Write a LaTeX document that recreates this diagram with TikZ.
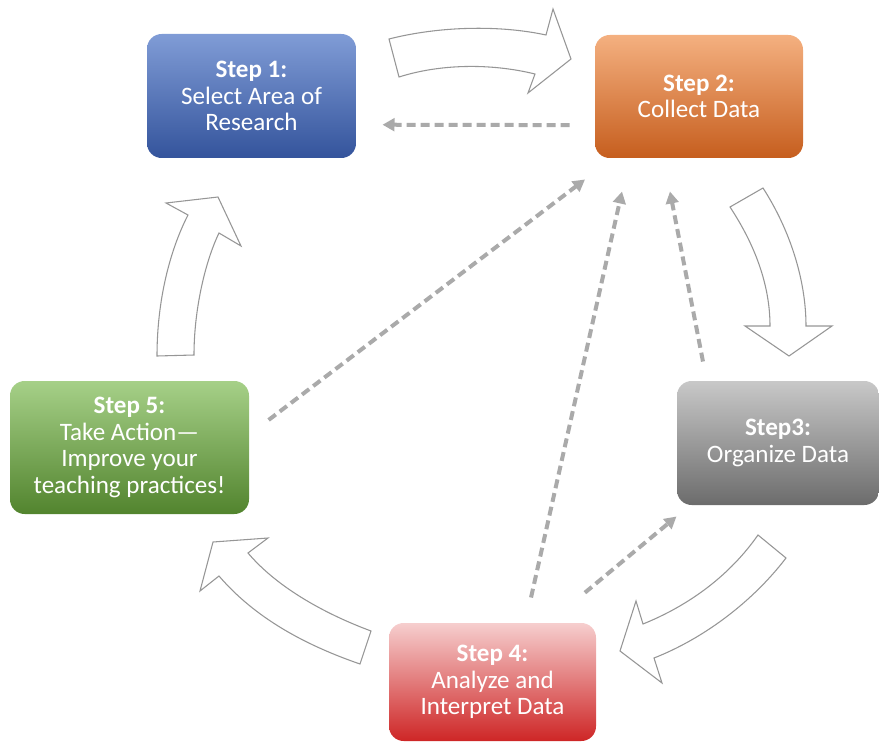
\documentclass[tikz,border=0pt]{standalone}
\usepackage{fontspec}
\setmainfont{Carlito}
\usetikzlibrary{arrows.meta}

\definecolor{blueTop}{RGB}{128,156,214}
\definecolor{blueBot}{RGB}{52,84,156}
\definecolor{orangeTop}{RGB}{244,176,128}
\definecolor{orangeBot}{RGB}{198,94,30}
\definecolor{grayTop}{RGB}{200,200,200}
\definecolor{grayBot}{RGB}{108,108,108}
\definecolor{redTop}{RGB}{246,206,206}
\definecolor{redBot}{RGB}{206,38,38}
\definecolor{greenTop}{RGB}{166,208,136}
\definecolor{greenBot}{RGB}{82,132,46}
\definecolor{arrowgray}{RGB}{150,150,150}
\definecolor{dashgray}{RGB}{170,170,170}

\tikzset{every picture/.style={line width=0.75pt}}
\tikzset{
  stepbox/.style={rounded corners=11pt, shade, text=white, align=center, inner sep=0pt,
    font=\fontsize{18.8}{20}\selectfont},
  blockarrow/.style={draw=arrowgray, fill=white, line width=0.8pt, line join=miter},
  backlink/.style={draw=dashgray, line width=3pt, dash pattern=on 6.75pt off 3.75pt,
    -{Triangle[length=9pt,width=9.5pt]}},
}

\begin{document}
\begin{tikzpicture}[x=0.75pt,y=0.75pt,yscale=-1,xscale=1]
\useasboundingbox (0,0) rectangle (879,742);

% Step boxes
\node[stepbox, minimum width=156.75pt, minimum height=93pt, top color=blueTop, bottom color=blueBot] (s1) at (251.5,96) {\textbf{Step 1:}\\Select Area of\\Research};
\node[stepbox, minimum width=156pt, minimum height=92.25pt, top color=orangeTop, bottom color=orangeBot] (s2) at (699,96.5) {\textbf{Step 2:}\\Collect Data};
\node[stepbox, minimum width=151.5pt, minimum height=93pt, top color=grayTop, bottom color=grayBot] (s3) at (778,443) {\textbf{Step3:}\\Organize Data};
\node[stepbox, minimum width=155.25pt, minimum height=88.5pt, top color=redTop, bottom color=redBot] (s4) at (492.5,682) {\textbf{Step 4:}\\Analyze and\\Interpret Data};
\node[stepbox, minimum width=179.25pt, minimum height=99.75pt, top color=greenTop, bottom color=greenBot] (s5) at (129.5,447.5) {\textbf{Step 5:}\\Take Action—\\Improve your\\teaching practices!};

%Shape: Curved Arrow 1 to 2
\draw[blockarrow] (389,39) .. controls (440,26) and (500,25) .. (546,35) -- (553,9) -- (571,59) -- (528,93) -- (535,74) .. controls (490,63) and (440,64) .. (399,77) -- cycle ;
%Shape: Curved Arrow 2 to 3
\draw[blockarrow] (730,207) .. controls (755,245) and (770,285) .. (770,326) -- (745,326) -- (789,356) -- (832,326) -- (806,326) .. controls (806,280) and (790,230) .. (763,188) -- cycle ;
%Shape: Curved Arrow 3 to 4
\draw[blockarrow] (786,558) .. controls (750,605) and (700,640) .. (654,658) -- (662,683) -- (620,651) -- (636,601) -- (643,624) .. controls (690,605) and (730,575) .. (758,535) -- cycle ;
%Shape: Curved Arrow 4 to 5
\draw[blockarrow] (371,631) .. controls (320,612) and (275,585) .. (248,553) -- (268,538) -- (213,542) -- (200,591) -- (219,576) .. controls (255,618) and (305,645) .. (360,664) -- cycle ;
%Shape: Curved Arrow 5 to 1
\draw[blockarrow] (157,356) .. controls (157,300) and (170,250) .. (188,215) -- (166,203) -- (218,197) -- (241,246) -- (219,233) .. controls (205,262) and (194,310) .. (194,355) -- cycle ;

% Dashed links back
\draw[backlink, shorten <=18.75pt, shorten >=19.5pt] ([yshift=21.5pt]s2.west) -- ([yshift=21.5pt]s1.east);
\draw[backlink, shorten <=18pt, shorten >=26pt] ([yshift=-9.75pt]s5.east) -- ([xshift=-64.8pt]s2.south);
\draw[backlink, shorten <=19.2pt, shorten >=25.4pt] ([xshift=24.7pt]s4.north) -- ([xshift=-52.2pt]s2.south);
\draw[backlink, shorten <=14.5pt, shorten >=25.2pt] ([xshift=-53.5pt]s3.north) -- ([xshift=-26.6pt]s2.south);
\draw[backlink, shorten <=35pt] ([xshift=42.4pt]s4.north) -- ([yshift=8.25pt]s3.south west);

\end{tikzpicture}
\end{document}
